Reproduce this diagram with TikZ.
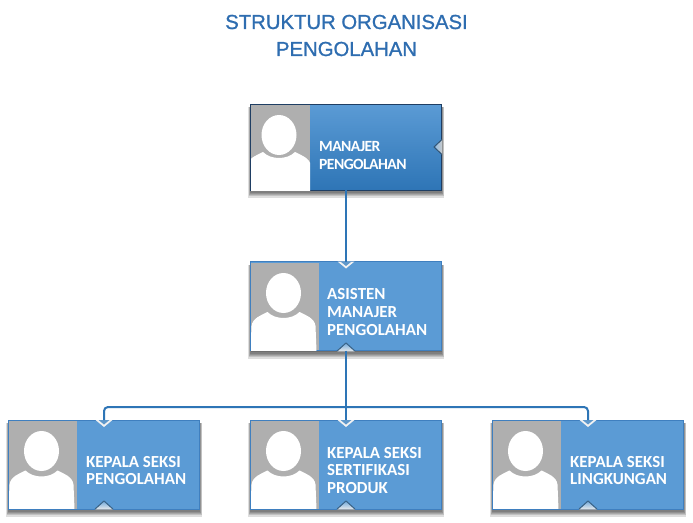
\documentclass[tikz,border=0pt]{standalone}
\usepackage{fontspec}
\setmainfont{Carlito}
\newfontfamily\titlefont[FakeBold=1]{Liberation Sans}
\newfontfamily\tightfont[LetterSpace=-3.5]{Carlito}
\usetikzlibrary{calc}
\definecolor{boxblue}{HTML}{5B9BD5}
\definecolor{deepblue}{HTML}{2E75B6}
\definecolor{edgeblue}{HTML}{3F7FBF}
\definecolor{photogray}{HTML}{AFAFAF}
\definecolor{titleblue}{HTML}{2E6DB0}
\definecolor{topedge}{HTML}{1F3E63}
\tikzset{
  x=1pt,y=-1pt,
  conn/.style={draw=deepblue,line width=2pt},
  titletext/.style={font=\titlefont\fontsize{20.3}{27}\selectfont,text=titleblue,align=center,inner sep=0pt},
  boxtext/.style={font=\bfseries\fontsize{16.9}{17.8}\selectfont,text=white,align=left,anchor=west,inner sep=0pt},
  toptext/.style={font=\tightfont\bfseries\fontsize{15.6}{18}\selectfont,text=white,align=left,anchor=west,inner sep=0pt},
  plainbox/.style={rectangle,fill=boxblue,draw=edgeblue,line width=1pt,inner sep=0pt,outer sep=0pt},
  gradbox/.style={rectangle,top color=boxblue,bottom color=deepblue,draw=topedge,line width=1pt,inner sep=0pt,outer sep=0pt},
}
% shadow: #1 left, #2 top, #3 right, #4 bottom
\newcommand{\softshadow}[4]{%
  \foreach \d in {6,5,4,3,2,1}{%
    \fill[black,opacity=0.13] (#1+1-\d*0.5,#2+3) rectangle (#3-1+\d*0.5,#4+\d*1.25);
  }%
}
% photo: #1 left, #2 top, #3 right, #4 bottom, #5 head centre x
\newcommand{\personphoto}[5]{%
  \fill[photogray] (#1,#2) rectangle (#3,#4);
  \begin{scope}
    \clip (#1,#2) rectangle (#3,#4);
    \fill[white] (#5,#2+30) ellipse [x radius=17.5pt,y radius=20pt];
    \fill[white] (#5-33,#4+1) -- (#5-32,#4-24)
      .. controls (#5-31,#4-32) and (#5-22,#4-35) .. (#5-16,#4-38)
      .. controls (#5-8,#4-30) and (#5+8,#4-30) .. (#5+16,#4-38)
      .. controls (#5+22,#4-35) and (#5+31,#4-32) .. (#5+32,#4-24)
      -- (#5+33,#4+1) -- cycle;
  \end{scope}
}
% notch in the upper edge, where a connector arrives
\newcommand{\topnotch}[2]{%
  \fill[white!90!gray] (#1-8.5,#2) -- (#1,#2+7) -- (#1+8.5,#2) -- cycle;
  \fill[boxblue!88!gray] (#1-5.5,#2) -- (#1,#2+4.5) -- (#1+5.5,#2) -- cycle;
}
% notch in the lower edge, where a connector leaves
\newcommand{\bottomnotch}[2]{%
  \fill[top color=boxblue!85!white,bottom color=gray!15] (#1-9,#2+0.6) -- (#1,#2-8) -- (#1+9,#2+0.6) -- cycle;
  \draw[black!35!boxblue,line width=1pt] (#1-9,#2) -- (#1,#2-8) -- (#1+9,#2);
}
\begin{document}
\begin{tikzpicture}
\useasboundingbox (0,0) rectangle (693,522);
\fill[white] (0,0) rectangle (693,522);

% shadows
\softshadow{250}{104}{442}{190}
\softshadow{250}{262}{442}{351}
\softshadow{8}{420}{200}{509}
\softshadow{250}{420}{442}{509}
\softshadow{492}{420}{684}{509}

% boxes
\node[gradbox,minimum width=191pt,minimum height=86pt] (manager) at (346,147) {};
\node[plainbox,minimum width=191pt,minimum height=89pt] (assistant) at (346,306) {};
\node[plainbox,minimum width=191pt,minimum height=89pt] (headA) at (104,464.5) {};
\node[plainbox,minimum width=191pt,minimum height=89pt] (headB) at (346,464.5) {};
\node[plainbox,minimum width=191pt,minimum height=89pt] (headC) at (588,464.5) {};

% photos
\personphoto{251}{105}{310}{190}{279}
\personphoto{251}{263}{319}{350}{283.5}
\personphoto{9}{421}{77}{508.5}{41.5}
\personphoto{251}{421}{319}{508.5}{283.5}
\personphoto{493}{421}{561}{508.5}{525.5}

% notches
\topnotch{346}{261.5}
\topnotch{104}{420}
\topnotch{346}{420}
\topnotch{588}{420}
\bottomnotch{346}{351}
\bottomnotch{104}{509}
\bottomnotch{346}{509}
\bottomnotch{588}{509}
% side notch of the top box
\fill[left color=boxblue!70!white,right color=gray!40] (434,147) -- (442.5,139) -- (442.5,155) -- cycle;
\draw[black!45!boxblue,line width=1pt] (442,139.5) -- (434,147) -- (442,154.5);

% connectors
\coordinate (busL) at (104,407);
\coordinate (busR) at (588,407);
\coordinate (busM) at (346,407);
\draw[conn] (manager.south) -- (assistant.north);
\draw[conn] (assistant.south) -- (busM);
\draw[conn] (busM) -- (headB.north);
\draw[conn,rounded corners=4pt] (headA.north) -- (busL) -- (busR) -- (headC.north);

% titles
\node[titletext] (title) at (346.5,35.5) {STRUKTUR ORGANISASI\\PENGOLAHAN};

% labels
\node[toptext] (tManager) at (319,155) {MANAJER\\PENGOLAHAN};
\node[boxtext] (tAssistant) at (327,312) {ASISTEN\\MANAJER\\PENGOLAHAN};
\node[boxtext] (tA) at (86,470.5) {KEPALA SEKSI\\PENGOLAHAN};
\node[boxtext] (tB) at (327,470.5) {KEPALA SEKSI\\SERTIFIKASI\\PRODUK};
\node[boxtext] (tC) at (570,470.5) {KEPALA SEKSI\\LINGKUNGAN};
\end{tikzpicture}
\end{document}
